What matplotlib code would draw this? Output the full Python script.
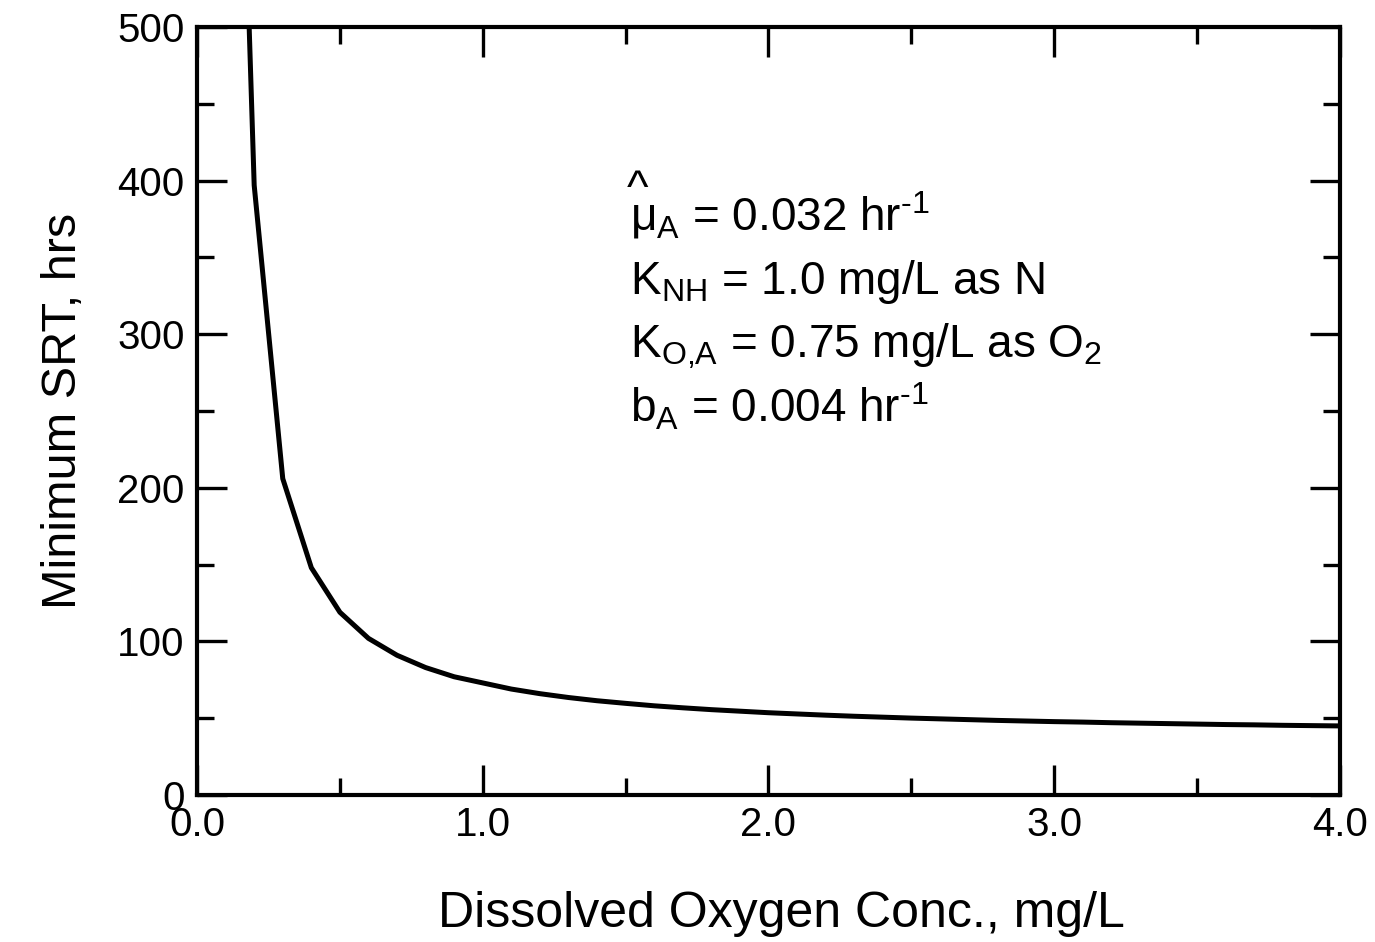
import matplotlib
matplotlib.use("Agg")
import matplotlib.pyplot as plt
from matplotlib.ticker import MultipleLocator

plt.rcParams['font.family'] = ['Liberation Sans', 'DejaVu Sans']
plt.rcParams['mathtext.fontset'] = 'custom'
plt.rcParams['mathtext.rm'] = 'Liberation Sans'
plt.rcParams['mathtext.it'] = 'Liberation Sans'
plt.rcParams['mathtext.bf'] = 'Liberation Sans:bold'

do_conc = [0.15, 0.2, 0.3, 0.4, 0.5, 0.6, 0.7, 0.8, 0.9, 1.0,
           1.1, 1.2, 1.3, 1.4, 1.5, 1.6, 1.7, 1.8, 1.9, 2.0,
           2.1, 2.2, 2.3, 2.4, 2.5, 2.6, 2.7, 2.8, 2.9, 3.0,
           3.1, 3.2, 3.3, 3.4, 3.5, 3.6, 3.7, 3.8, 3.9, 4.0]
min_srt = [690, 397, 206, 148, 119, 102, 91, 83, 77, 73,
           69, 66, 63.5, 61.4, 59.7, 58.1, 56.8, 55.6, 54.6, 53.6,
           52.8, 52.0, 51.3, 50.7, 50.1, 49.6, 49.1, 48.6, 48.2, 47.8,
           47.5, 47.1, 46.8, 46.5, 46.2, 45.9, 45.7, 45.4, 45.2, 45.0]

x_ticks = [0.0, 1.0, 2.0, 3.0, 4.0]
x_ticklabels = ['0.0', '1.0', '2.0', '3.0', '4.0']
y_ticks = [0, 100, 200, 300, 400, 500]

fig = plt.figure(figsize=(13.75, 9.42), dpi=100)
ax = fig.add_axes([0.1433, 0.156, 0.8312, 0.8153])
ax.plot(do_conc, min_srt, color='black', lw=3.6, solid_joinstyle='miter')
ax.set_xlim(0, 4)
ax.set_ylim(0, 500)
ax.set_xticks(x_ticks)
ax.set_xticklabels(x_ticklabels)
ax.set_yticks(y_ticks)
ax.xaxis.set_minor_locator(MultipleLocator(0.5))
ax.yaxis.set_minor_locator(MultipleLocator(50))
ax.tick_params(which='both', direction='in', top=True, right=True, width=2.4,
               labelsize=29)
ax.tick_params(axis='x', which='major', pad=8)
ax.tick_params(axis='y', which='major', pad=9)
ax.tick_params(which='major', length=21.5)
ax.tick_params(which='minor', length=12.5)
for s in ax.spines.values():
    s.set_linewidth(3)

ax.set_xlabel('Dissolved Oxygen Conc., mg/L', fontsize=36, labelpad=34)
ax.xaxis.label.set_x(0.511)
ax.set_ylabel('Minimum SRT, hrs', fontsize=35, labelpad=22)

fs = 33
tx = 0.379
ax.text(tx - 0.003, 0.772, '^', transform=ax.transAxes, fontsize=fs, va='baseline')
ax.text(tx, 0.7357, r'$\mathregular{\mu_A}$ = 0.032 hr$^{\text{-1}}$',
        transform=ax.transAxes, fontsize=fs, va='baseline')
ax.text(tx, 0.6523, r'$\mathregular{K_{NH}}$ = 1.0 mg/L as N',
        transform=ax.transAxes, fontsize=fs, va='baseline')
ax.text(tx, 0.5703, r'$\mathregular{K_{O{,}A}}$ = 0.75 mg/L as O$_\mathregular{2}$',
        transform=ax.transAxes, fontsize=fs, va='baseline')
ax.text(tx, 0.4857, r'$\mathregular{b_A}$ = 0.004 hr$^{\text{-1}}$',
        transform=ax.transAxes, fontsize=fs, va='baseline')

fig.savefig('out.png', dpi=100)
